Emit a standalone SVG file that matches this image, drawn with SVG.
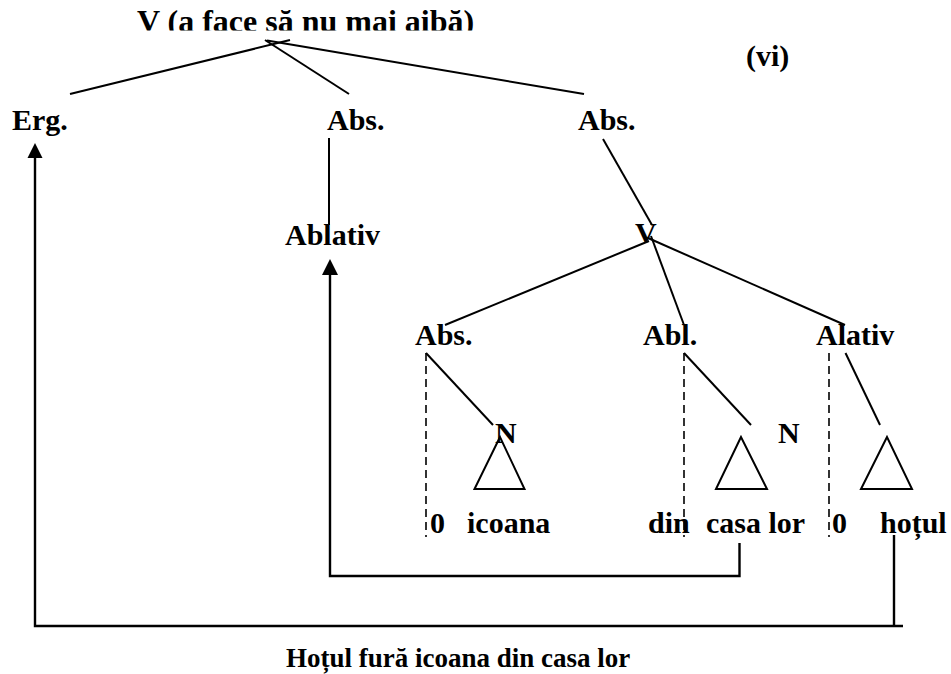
<svg xmlns="http://www.w3.org/2000/svg" width="951" height="674" viewBox="0 0 951 674">
<style>
text{font-family:"Liberation Serif","Times New Roman",serif;font-weight:bold;fill:#000}
.l{font-size:30px}
.e{stroke:#000;stroke-width:2;fill:none}
.d{stroke:#000;stroke-width:1.6;fill:none;stroke-dasharray:8 5}
.b{stroke:#000;stroke-width:2.4;fill:none}
.tri{stroke:#000;stroke-width:2;fill:none}
</style>
<defs>
<clipPath id="tc"><rect x="0" y="0" width="951" height="30.5"/></clipPath>
</defs>
<rect width="951" height="674" fill="#fff"/>
<g id="title" clip-path="url(#tc)"><text x="137" y="32" style="font-size:32px">V (a face să nu mai aibă)</text></g>
<g id="label-vi"><text class="l" x="746" y="66">(vi)</text></g>
<g id="erg"><text class="l" x="12" y="130">Erg.</text></g>
<g id="abs1"><text class="l" x="327" y="130">Abs.</text></g>
<g id="abs2"><text class="l" x="578" y="130">Abs.</text></g>
<g id="ablativ"><text class="l" x="285" y="245">Ablativ</text></g>
<g id="v2"><text class="l" x="635" y="243">V</text></g>
<g id="abs3"><text class="l" x="415" y="345">Abs.</text></g>
<g id="abl"><text class="l" x="643" y="345">Abl.</text></g>
<g id="alativ"><text class="l" x="816" y="345">Alativ</text></g>
<g id="n1"><text class="l" x="495" y="443">N</text><path class="tri" d="M500,437 L474.5,489 L524.5,489 Z"/></g>
<g id="n2"><text class="l" x="778" y="443">N</text><path class="tri" d="M741,437 L716,489 L767,489 Z"/></g>
<g id="n3"><path class="tri" d="M887,437 L861,489 L912,489 Z"/></g>
<g id="w-0a"><text class="l" x="430" y="533">0</text></g>
<g id="w-icoana"><text class="l" x="467" y="533">icoana</text></g>
<g id="w-din"><text class="l" x="648" y="533">din</text></g>
<g id="w-casalor"><text class="l" x="706" y="533">casa lor</text></g>
<g id="w-0b"><text class="l" x="832" y="533">0</text></g>
<g id="w-hotul"><text class="l" x="880" y="533">hoțul</text></g>
<g id="caption"><text x="286" y="667" style="font-size:27px">Hoțul fură icoana din casa lor</text></g>
<g id="connectors">
<line class="e" x1="290" y1="40" x2="70" y2="94"/>
<line class="e" x1="265" y1="40" x2="349" y2="94"/>
<line class="e" x1="267" y1="40.5" x2="584" y2="94"/>
<line class="e" x1="329" y1="138" x2="329" y2="225"/>
<line class="e" x1="603" y1="139" x2="652" y2="225"/>
<line class="e" x1="649" y1="241" x2="445" y2="325"/>
<line class="e" x1="651" y1="236" x2="684" y2="325"/>
<line class="e" x1="648" y1="238" x2="845" y2="325"/>
<line class="d" x1="426" y1="353" x2="426" y2="537"/>
<line class="e" x1="426" y1="353" x2="493" y2="425"/>
<line class="d" x1="684" y1="353" x2="684" y2="537"/>
<line class="e" x1="684" y1="353" x2="751" y2="425"/>
<line class="d" x1="829" y1="353" x2="829" y2="537"/>
<line class="e" x1="845.5" y1="353" x2="880" y2="425"/>
<path class="b" d="M35,157 L35,626 L903,626"/>
<line class="b" x1="894" y1="535" x2="894" y2="626"/>
<path d="M35,143 L27.5,158 L42.5,158 Z" fill="#000"/>
<path class="b" d="M330,274 L330,576 L739.5,576 L739.5,543"/>
<path d="M330,259 L322,275 L338,275 Z" fill="#000"/>
</g>
</svg>
